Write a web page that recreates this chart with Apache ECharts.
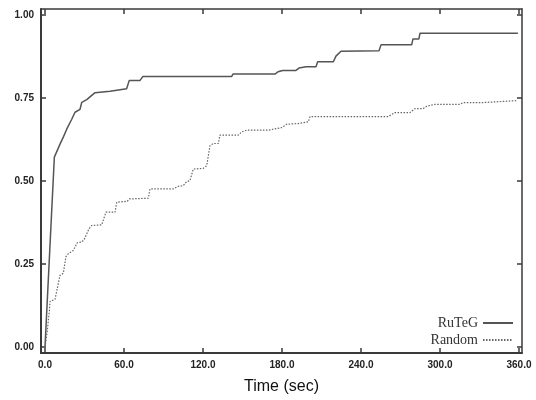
<!DOCTYPE html>
<html>
<head>
<meta charset="utf-8">
<script src="https://cdn.jsdelivr.net/npm/echarts@6/dist/echarts.min.js"></script>
<style>html,body{margin:0;padding:0;background:#fff;}#c{width:536px;height:400px;}</style>
</head>
<body>
<div id="c"></div>
<script>
// RuTeG cumulative fraction: [time (sec), value]
const rutegTime = [0, 7.1, 7.6, 11.4, 13.9, 16.5, 20.3, 22.8, 26.6, 27.9, 31.7, 38, 49.4, 50.7, 62, 64, 72.2, 74.4, 141.8, 142.8, 174.7, 177, 180.5, 190.6, 192.9, 198.2, 205.8, 207.1, 219, 221, 224.8, 253.7, 255.2, 278.5, 279.5, 284, 284.8, 359.2];
const rutegValue = [0, 0.572, 0.575, 0.611, 0.632, 0.656, 0.686, 0.707, 0.716, 0.737, 0.745, 0.766, 0.770, 0.775, 0.778, 0.803, 0.803, 0.815, 0.815, 0.822, 0.822, 0.829, 0.833, 0.833, 0.840, 0.844, 0.844, 0.859, 0.859, 0.876, 0.891, 0.892, 0.910, 0.910, 0.928, 0.928, 0.945, 0.945];
// Random cumulative fraction
const randomTime = [0, 1.7, 3.3, 3.8, 7.6, 8.9, 11.4, 13.9, 15.9, 17.7, 21.5, 24.5, 27.9, 29.8, 33.4, 35.5, 43.1, 46.3, 53.2, 54.5, 62.5, 64, 78.5, 79.7, 97.4, 101.2, 105, 107.6, 110.1, 112.6, 120.2, 122.8, 125.3, 127.8, 131.6, 132.9, 146.8, 149.4, 153.2, 169.6, 170.9, 179.8, 183.6, 192.4, 193.7, 200, 201.3, 260.7, 265.8, 277.2, 281, 287.3, 289.9, 296.2, 315.2, 317.7, 331.7, 332.9, 358.2];
const randomValue = [0, 0.048, 0.108, 0.137, 0.144, 0.168, 0.216, 0.222, 0.272, 0.281, 0.291, 0.314, 0.316, 0.324, 0.356, 0.366, 0.368, 0.406, 0.406, 0.436, 0.439, 0.446, 0.448, 0.476, 0.476, 0.484, 0.486, 0.498, 0.501, 0.536, 0.538, 0.546, 0.606, 0.613, 0.613, 0.638, 0.638, 0.648, 0.653, 0.653, 0.659, 0.661, 0.671, 0.673, 0.678, 0.678, 0.694, 0.694, 0.706, 0.706, 0.718, 0.718, 0.725, 0.731, 0.731, 0.736, 0.736, 0.742, 0.742];
const xTicks = [0, 60, 120, 180, 240, 300, 360];
const yTicks = [0, 0.25, 0.5, 0.75, 1.0];
const xName = 'Time (sec)';
const seriesNames = ['RuTeG', 'Random'];

const zip = (a, b) => a.map((v, i) => [v, b[i]]);
const chart = echarts.init(document.getElementById('c'), null, {renderer: 'canvas'});
const axisCol = '#3a3a3a';
const labelStyle = {fontFamily: 'Liberation Sans', fontWeight: 'bold', fontSize: 10, color: '#222'};

chart.setOption({
  backgroundColor: '#fff',
  animation: false,
  grid: {left: 41, right: 14, top: 9, bottom: 45, containLabel: false},
  legend: {
    orient: 'vertical', right: 17, top: 311, align: 'right',
    itemWidth: 30, itemHeight: 8, itemGap: 3,
    itemStyle: {opacity: 0},
    textStyle: {fontFamily: 'Liberation Serif', fontSize: 14, color: '#333'},
    data: seriesNames
  },
  xAxis: [{
    type: 'value', min: -3.04, max: 362.3, position: 'bottom',
    name: xName, nameLocation: 'middle', nameGap: 26,
    nameTextStyle: {fontFamily: 'Liberation Sans', fontSize: 16, color: '#111'},
    axisLine: {show: true, onZero: false, lineStyle: {color: axisCol, width: 2}},
    axisTick: {show: true, inside: true, length: 5, customValues: xTicks, lineStyle: {color: axisCol, width: 1.5}},
    axisLabel: {customValues: xTicks, margin: 7, formatter: v => v.toFixed(1), ...labelStyle},
    splitLine: {show: false}
  }, {
    type: 'value', min: -3.04, max: 362.3, position: 'top',
    axisLine: {show: true, onZero: false, lineStyle: {color: axisCol, width: 1.5}},
    axisTick: {show: true, inside: true, length: 5, customValues: xTicks, lineStyle: {color: axisCol, width: 1.5}},
    axisLabel: {show: false},
    splitLine: {show: false}
  }],
  yAxis: [{
    type: 'value', min: -0.018, max: 1.018, position: 'left',
    axisLine: {show: true, onZero: false, lineStyle: {color: axisCol, width: 2}},
    axisTick: {show: true, inside: true, length: 5, customValues: yTicks, lineStyle: {color: axisCol, width: 1.5}},
    axisLabel: {customValues: yTicks, margin: 7, formatter: v => v.toFixed(2), ...labelStyle},
    splitLine: {show: false}
  }, {
    type: 'value', min: -0.018, max: 1.018, position: 'right',
    axisLine: {show: true, onZero: false, lineStyle: {color: axisCol, width: 1.5}},
    axisTick: {show: true, inside: true, length: 5, customValues: yTicks, lineStyle: {color: axisCol, width: 1.5}},
    axisLabel: {show: false},
    splitLine: {show: false}
  }],
  series: [{
    name: seriesNames[0], type: 'line', xAxisIndex: 0, yAxisIndex: 0,
    data: zip(rutegTime, rutegValue), symbol: 'none',
    lineStyle: {color: '#555', width: 1.5, type: 'solid'},
    itemStyle: {color: '#555'}
  }, {
    name: seriesNames[1], type: 'line', xAxisIndex: 0, yAxisIndex: 0,
    data: zip(randomTime, randomValue), symbol: 'none',
    lineStyle: {color: '#666', width: 1.2, type: [1.5, 1.5]},
    itemStyle: {color: '#666'}
  }]
});
</script>
</body>
</html>
